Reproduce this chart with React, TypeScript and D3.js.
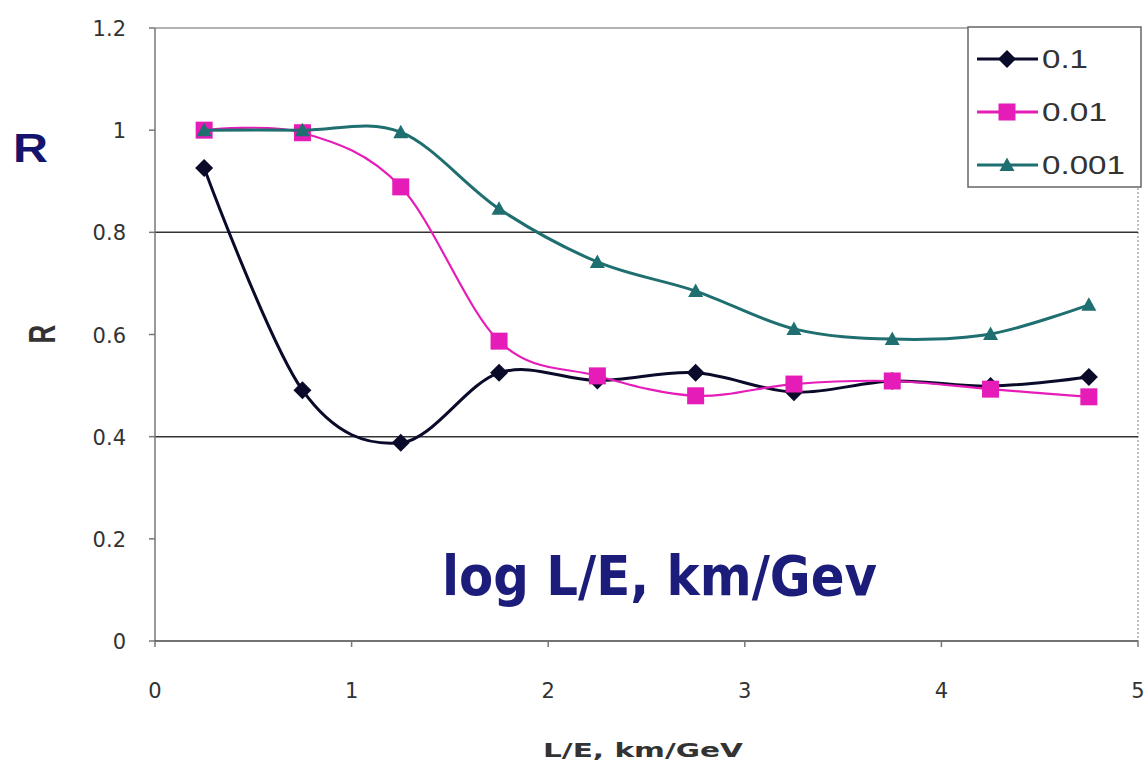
import React from "react";
import * as d3 from "d3";

const xValues = [0.25, 0.75, 1.25, 1.75, 2.25, 2.75, 3.25, 3.75, 4.25, 4.75];
const series01 = [0.926, 0.491, 0.388, 0.525, 0.51, 0.525, 0.487, 0.509, 0.499, 0.517];
const series001 = [1.0, 0.995, 0.889, 0.587, 0.519, 0.48, 0.503, 0.509, 0.493, 0.478];
const series0001 = [1.0, 1.0, 0.996, 0.846, 0.742, 0.685, 0.611, 0.591, 0.601, 0.658];
const seriesNames = ["0.1", "0.01", "0.001"];
const xTicks = [0, 1, 2, 3, 4, 5];
const yTicks = [0, 0.2, 0.4, 0.6, 0.8, 1, 1.2];
const yGrid = [0.4, 0.8];

const W = 1147, H = 763;
const x = d3.scaleLinear().domain([0, 5]).range([155, 1138]);
const y = d3.scaleLinear().domain([0, 1.2]).range([641, 28]);

const colors = ["#0a0a2a", "#e61cb8", "#1f6f70"];
const seriesData = [series01, series001, series0001];
const legendTextLen = [46, 65, 83];

function Marker({ kind, cx, cy, color }: { kind: number; cx: number; cy: number; color: string }) {
  if (kind === 0) {
    const s = 9;
    return <path d={`M${cx},${cy - s}L${cx + s},${cy}L${cx},${cy + s}L${cx - s},${cy}Z`} fill={color} />;
  }
  if (kind === 1) {
    const s = 8.5;
    return <rect x={cx - s} y={cy - s} width={2 * s} height={2 * s} fill={color} />;
  }
  const s = 7.5;
  return <path d={`M${cx},${cy - s}L${cx + s},${cy + s * 0.8}L${cx - s},${cy + s * 0.8}Z`} fill={color} />;
}

export default function App() {
  const line = d3
    .line<number>()
    .x((_, i) => x(xValues[i]))
    .y((d) => y(d))
    .curve(d3.curveCardinal.tension(0));
  const font = "'DejaVu Sans', Verdana, sans-serif";
  const arial = "Arial, 'Liberation Sans', sans-serif";
  return (
    <svg width={W} height={H} style={{ position: "absolute", left: 0, top: 0, background: "#fff" }}>
      {/* plot frame */}
      <line x1={x(0)} x2={x(5)} y1={y(1.2)} y2={y(1.2)} stroke="#999" strokeWidth={1.5} />
      <line x1={x(5)} x2={x(5)} y1={y(1.2)} y2={y(0)} stroke="#aaa" strokeWidth={1.5} strokeDasharray="2,2" />
      {yGrid.map((v) => (
        <line key={v} x1={x(0)} x2={x(5)} y1={y(v)} y2={y(v)} stroke="#333" strokeWidth={1.5} />
      ))}
      <line x1={x(0)} x2={x(0)} y1={y(1.2)} y2={y(0)} stroke="#777" strokeWidth={1.5} />
      <line x1={x(0)} x2={x(5)} y1={y(0)} y2={y(0)} stroke="#444" strokeWidth={1.5} />
      {yTicks.map((v) => (
        <g key={v}>
          <line x1={x(0) - 6} x2={x(0)} y1={y(v)} y2={y(v)} stroke="#777" strokeWidth={1.5} />
          <text x={126} y={y(v) + 8} textAnchor="end" fontFamily={font} fontSize={21} fill="#333">
            {v === 0 || v === 1 ? String(v) : v.toFixed(1)}
          </text>
        </g>
      ))}
      {xTicks.map((v) => (
        <g key={v}>
          <line x1={x(v)} x2={x(v)} y1={y(0)} y2={y(0) + 6} stroke="#777" strokeWidth={1.5} />
          <text x={x(v)} y={698} textAnchor="middle" fontFamily={font} fontSize={21} fill="#333">
            {v}
          </text>
        </g>
      ))}
      {seriesData.map((s, k) => (
        <g key={k}>
          <path d={line(s) || ""} fill="none" stroke={colors[k]} strokeWidth={k === 1 ? 2.2 : 3} />
          {s.map((v, i) => (
            <Marker key={i} kind={k} cx={x(xValues[i])} cy={y(v)} color={colors[k]} />
          ))}
        </g>
      ))}
      {/* legend */}
      <rect x={968} y={27} width={173} height={160} fill="#fff" stroke="#666" strokeWidth={1.5} />
      {seriesNames.map((n, k) => {
        const ly = 59 + k * 53;
        return (
          <g key={n}>
            <line x1={977} x2={1038} y1={ly} y2={ly} stroke={colors[k]} strokeWidth={3} />
            <Marker kind={k} cx={1007} cy={ly} color={colors[k]} />
            <text
              x={1042}
              y={ly + 9}
              fontFamily={arial}
              fontSize={26}
              fill="#333"
              textLength={legendTextLen[k]}
              lengthAdjust="spacingAndGlyphs"
            >
              {n}
            </text>
          </g>
        );
      })}
      {/* titles */}
      <text
        x={13}
        y={162}
        fontFamily={arial}
        fontSize={40}
        fontWeight="bold"
        fill="#14146e"
        textLength={35}
        lengthAdjust="spacingAndGlyphs"
      >
        R
      </text>
      <text
        transform={`translate(55,334) rotate(-90) scale(1,1.45)`}
        textAnchor="middle"
        fontFamily={arial}
        fontSize={26}
        fontWeight="bold"
        fill="#333"
      >
        R
      </text>
      <text
        x={442}
        y={595}
        fontFamily={font}
        fontSize={55}
        fontWeight="bold"
        fill="#1c1c7a"
        textLength={435}
        lengthAdjust="spacingAndGlyphs"
      >
        log L/E, km/Gev
      </text>
      <text
        x={543}
        y={757}
        fontFamily={font}
        fontSize={20}
        fontWeight="bold"
        fill="#333"
        textLength={200}
        lengthAdjust="spacingAndGlyphs"
      >
        L/E, km/GeV
      </text>
    </svg>
  );
}
